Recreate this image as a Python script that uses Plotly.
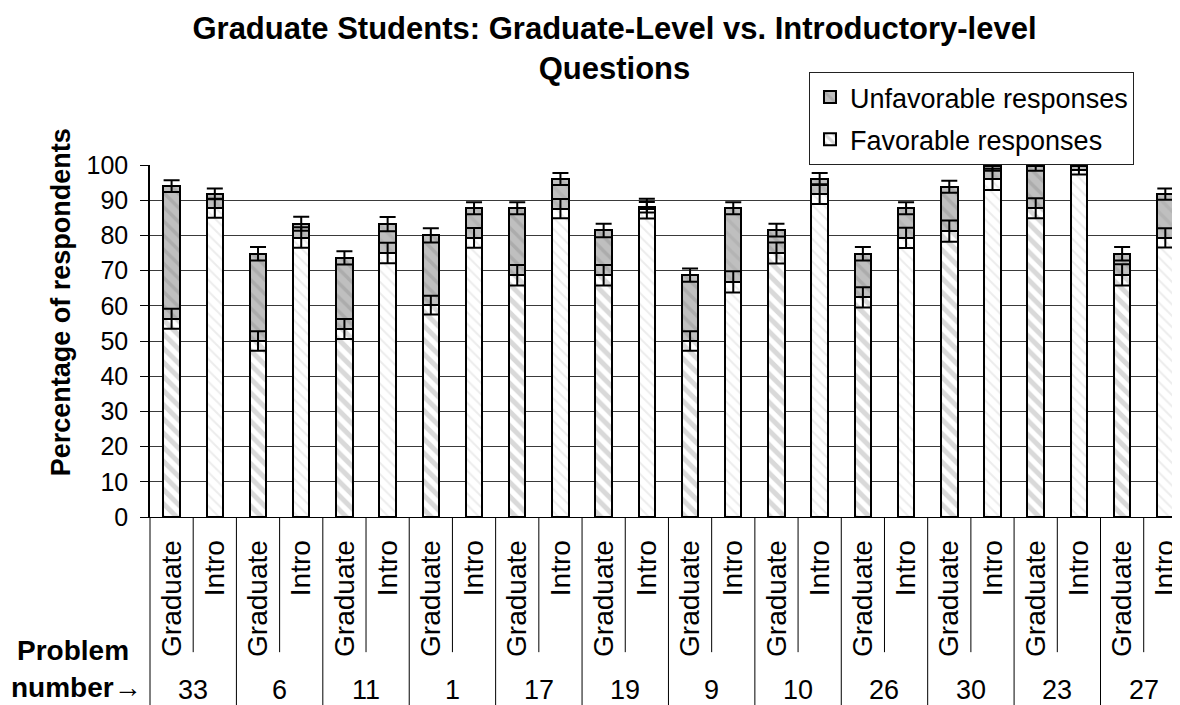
import plotly.graph_objects as go

# ---------------- data ----------------
problems = ["33", "6", "11", "1", "17", "19", "9", "10", "26", "30", "23", "27"]
levels = ["Graduate", "Intro"]

grad_favorable = [56.3, 50.0, 53.4, 60.2, 68.7, 68.7, 50.0, 75.0, 62.4, 81.2, 87.7, 68.8]
grad_unfavorable = [37.7, 24.8, 20.2, 19.8, 19.0, 12.7, 18.7, 6.5, 12.4, 12.6, 11.9, 6.0]
intro_favorable = [87.7, 79.4, 75.0, 79.3, 87.6, 87.6, 66.8, 91.7, 79.3, 95.9, 98.7, 79.3]
intro_unfavorable = [4.1, 3.9, 8.2, 8.4, 8.4, 0.4, 20.9, 4.3, 8.4, 3.7, 0.9, 12.4]

grad_fav_err = [2.85, 2.8, 2.85, 2.65, 2.9, 2.9, 2.8, 3.0, 2.85, 3.0, 2.85, 3.0]
grad_tot_err = [1.7, 1.9, 1.9, 2.0, 1.7, 1.9, 1.9, 1.8, 1.9, 1.7, 1.2, 1.9]
intro_fav_err = [2.7, 2.9, 2.9, 2.8, 2.75, 2.8, 3.0, 2.8, 2.85, 3.0, 1.4, 2.75]
intro_tot_err = [1.5, 2.0, 2.0, 1.7, 1.7, 1.5, 1.7, 1.7, 1.7, 1.2, 1.0, 1.6]

yticks = list(range(0, 101, 10))

# ---------------- interleave Graduate / Intro per problem ----------------
labels, lvl, fav, unfav, fav_err, tot_err = [], [], [], [], [], []
for i in range(len(problems)):
    for lev, f, u, fe, te in (
        (levels[0], grad_favorable[i], grad_unfavorable[i], grad_fav_err[i], grad_tot_err[i]),
        (levels[1], intro_favorable[i], intro_unfavorable[i], intro_fav_err[i], intro_tot_err[i]),
    ):
        labels.append(lev)
        lvl.append(lev)
        fav.append(f)
        unfav.append(u)
        fav_err.append(fe)
        tot_err.append(te)

pos = list(range(len(labels)))
total = [f + u for f, u in zip(fav, unfav)]
is_grad = [l == levels[0] for l in lvl]

FONT = "Liberation Sans, Arial, sans-serif"
W, H = 1172, 697   # page body adds an 8px offset inside the 1180x705 window

fig = go.Figure()

# Favorable (bottom of the stack)
fig.add_trace(go.Bar(
    x=pos, y=fav, name="Favorable responses",
    width=0.38,
    marker=dict(
        color="white",
        line=dict(color="black", width=2),
        pattern=dict(
            shape="\\",
            bgcolor="white",
            fgcolor=["#b3b3b3" if g else "#dadada" for g in is_grad],
            size=[10 if g else 8 for g in is_grad],
            solidity=[0.5 if g else 0.25 for g in is_grad],
        ),
    ),
    legendgroup="fav", legendrank=2,
    hoverinfo="skip",
))

# Unfavorable (top of the stack)
fig.add_trace(go.Bar(
    x=pos, y=unfav, name="Unfavorable responses",
    width=0.38,
    marker=dict(
        color="#bdbdbd",
        line=dict(color="black", width=2),
        pattern=dict(
            shape="\\",
            bgcolor="#bfbfbf",
            fgcolor=["#9a9a9a" if g else "#aaaaaa" for g in is_grad],
            size=10,
            solidity=0.35,
        ),
    ),
    legendgroup="unfav", legendrank=1,
    hoverinfo="skip",
))

# Error bars (drawn above the bars)
fig.add_trace(go.Scatter(
    x=pos, y=fav, mode="markers",
    marker=dict(size=1, opacity=0),
    error_y=dict(type="data", array=fav_err, visible=True,
                 color="black", thickness=2, width=8),
    showlegend=False, hoverinfo="skip", cliponaxis=False,
))
fig.add_trace(go.Scatter(
    x=pos, y=total, mode="markers",
    marker=dict(size=1, opacity=0),
    error_y=dict(type="data", array=tot_err, visible=True,
                 color="black", thickness=2, width=8),
    showlegend=False, hoverinfo="skip", cliponaxis=False,
))

# ---------------- category dividers and problem numbers ----------------
shapes = []
annotations = []
n_groups = len(problems)
for g in range(n_groups + 1):
    xb = 2 * g - 0.5
    if g == 0:
        shapes.append(dict(type="line", xref="paper", yref="paper",
                           x0=0, x1=0, y0=0, y1=-0.54,
                           line=dict(color="black", width=1)))
    else:
        shapes.append(dict(type="line", xref="x", yref="paper",
                           x0=xb, x1=xb, y0=0, y1=-0.54,
                           line=dict(color="black", width=1)))
for g in range(n_groups):
    xs = 2 * g + 0.5
    shapes.append(dict(type="line", xref="x", yref="paper",
                       x0=xs, x1=xs, y0=0, y1=-0.384,
                       line=dict(color="black", width=1)))
    annotations.append(dict(x=xs, y=-0.4915, xref="x", yref="paper",
                            text=problems[g], showarrow=False,
                            font=dict(family=FONT, size=27, color="black"),
                            xanchor="center", yanchor="middle"))

annotations.append(dict(x=-0.0748, y=-0.378, xref="paper", yref="paper",
                        text="<b>Problem</b>", showarrow=False,
                        font=dict(family=FONT, size=28, color="black"),
                        xanchor="center", yanchor="middle"))
annotations.append(dict(x=-0.0709, y=-0.483, xref="paper", yref="paper",
                        text="<b>number</b>→", showarrow=False,
                        font=dict(family=FONT, size=28, color="black"),
                        xanchor="center", yanchor="middle"))

# y-axis title (placed like the reference: slightly above the plot centre)
annotations.append(dict(x=-0.0864, y=0.61, xref="paper", yref="paper",
                        text="<b>Percentage of respondents</b>", showarrow=False,
                        textangle=-90,
                        font=dict(family=FONT, size=27, color="black"),
                        xanchor="center", yanchor="middle"))

fig.update_layout(
    width=W, height=H,
    margin=dict(l=142, r=0, t=157, b=188, autoexpand=False),
    paper_bgcolor="white", plot_bgcolor="white",
    barmode="stack",
    hovermode=False,
    font=dict(family=FONT, size=26, color="black"),
    title=dict(
        text="<b>Graduate Students: Graduate-Level vs. Introductory-level<br>Questions</b>",
        x=606.5 / W, xref="container", xanchor="center",
        y=1 - 31 / H, yref="container", yanchor="middle",
        font=dict(family=FONT, size=31, color="black"),
    ),
    legend=dict(
        x=0.6398, y=1.264, xanchor="left", yanchor="top",
        xref="paper", yref="paper",
        traceorder="grouped", tracegroupgap=4,
        bgcolor="white", bordercolor="#222222", borderwidth=1,
        font=dict(family=FONT, size=27, color="black"),
    ),
    xaxis=dict(
        range=[-0.5, 23.34],
        tickmode="array", tickvals=pos, ticktext=labels,
        tickangle=-90, ticks="", ticklabelstandoff=11,
        ticklabeloverflow="allow",
        showgrid=False, zeroline=False,
        showline=True, linecolor="black", linewidth=1,
        tickfont=dict(family=FONT, size=28, color="black"),
    ),
    yaxis=dict(
        range=[0, 100], tickmode="array", tickvals=yticks,
        showgrid=True, gridcolor="#3a3a3a", gridwidth=1,
        zeroline=False,
        showline=True, linecolor="black", linewidth=1.5,
        ticks="outside", ticklen=8, tickcolor="black", tickwidth=1,
        ticklabelstandoff=7,
        tickfont=dict(family=FONT, size=25, color="black"),
    ),
    shapes=shapes,
    annotations=annotations,
)

fig.write_html("out.html")
